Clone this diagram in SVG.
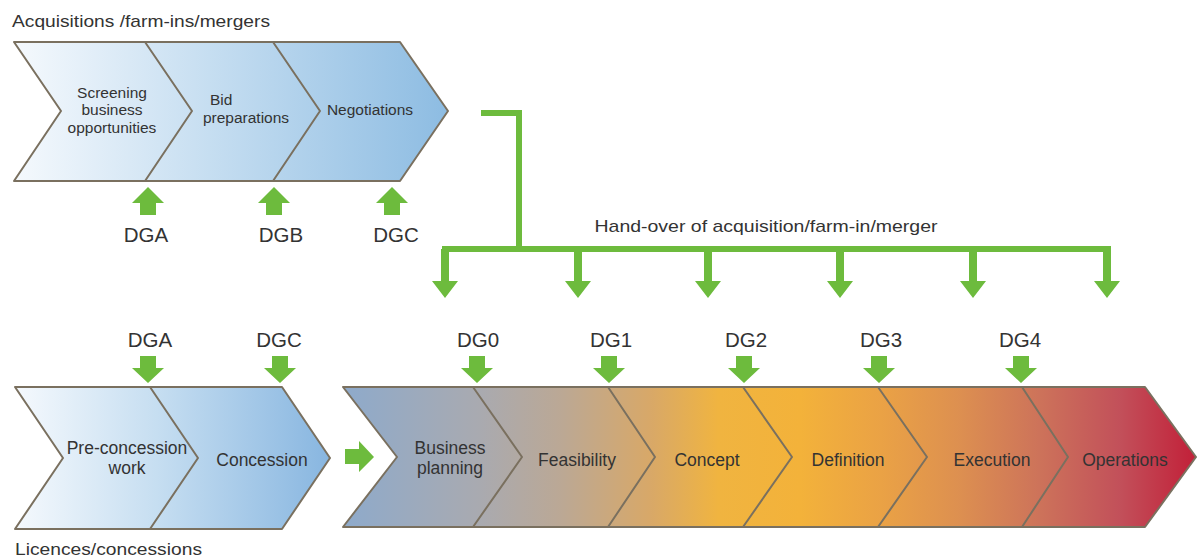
<svg xmlns="http://www.w3.org/2000/svg" width="1197" height="558" viewBox="0 0 1197 558">
<defs>
<linearGradient id="gTop" gradientUnits="userSpaceOnUse" x1="14" y1="0" x2="448" y2="0">
<stop offset="0" stop-color="#f5f9fd"/><stop offset="0.45" stop-color="#c6def1"/><stop offset="1" stop-color="#8dbce2"/>
</linearGradient>
<linearGradient id="gBL" gradientUnits="userSpaceOnUse" x1="15" y1="0" x2="330" y2="0">
<stop offset="0" stop-color="#f5f9fd"/><stop offset="0.45" stop-color="#c6def1"/><stop offset="1" stop-color="#88b6e0"/>
</linearGradient>
<linearGradient id="gBig" gradientUnits="userSpaceOnUse" x1="343" y1="0" x2="1197" y2="0">
<stop offset="0" stop-color="#8eaacb"/>
<stop offset="0.16" stop-color="#a9aab0"/>
<stop offset="0.255" stop-color="#bba895"/>
<stop offset="0.36" stop-color="#d8a868"/>
<stop offset="0.44" stop-color="#f0b440"/>
<stop offset="0.535" stop-color="#f3b23a"/>
<stop offset="0.63" stop-color="#eaa245"/>
<stop offset="0.72" stop-color="#dd9050"/>
<stop offset="0.815" stop-color="#cd735a"/>
<stop offset="0.91" stop-color="#c2505a"/>
<stop offset="1" stop-color="#c21f38"/>
</linearGradient>
</defs>
<style>
.shape{stroke:#7a705f;stroke-width:2;stroke-linejoin:round}
.bd{fill:none;stroke:#7a705f;stroke-width:2;stroke-linejoin:round}
.t{font-family:"Liberation Sans",Arial,sans-serif;fill:#333;text-anchor:middle}
.s14{font-size:15.5px}
.s16{font-size:17px}
.s17{font-size:17.5px}
.dg{font-size:20.5px}
.grn{fill:#6dbb3d}
.line{fill:none;stroke:#6dbb3d;stroke-width:6}
</style>
<text class="t s16" x="12" y="27" style="text-anchor:start" textLength="258" lengthAdjust="spacingAndGlyphs">Acquisitions /farm-ins/mergers</text>
<text class="t s16" x="15" y="555" style="text-anchor:start" textLength="187" lengthAdjust="spacingAndGlyphs">Licences/concessions</text>

<g id="acquisitions">
<path class="shape" fill="url(#gTop)" d="M14,42 L400,42 L448,111 L400,181 L14,181 L61,111 Z"/>
<path class="bd" d="M145,42 L192,111 L145,181"/>
<path class="bd" d="M273,42 L320,111 L273,181"/>
</g>
<g id="screening"><text class="t s14" x="112" y="98">Screening</text><text class="t s14" x="112" y="115">business</text><text class="t s14" x="112" y="133">opportunities</text></g>
<g id="bid"><text class="t s14" x="210" y="105" style="text-anchor:start">Bid</text><text class="t s14" x="246" y="123">preparations</text></g>
<g id="negotiations"><text class="t s14" x="370" y="115">Negotiations</text></g>

<g id="gates-top">
<path class="grn" d="M148,187 L164,203 L156,203 L156,215 L140,215 L140,203 L132,203 Z"/>
<path class="grn" d="M274,187 L290,203 L282,203 L282,215 L266,215 L266,203 L258,203 Z"/>
<path class="grn" d="M392,187 L408,203 L400,203 L400,215 L384,215 L384,203 L376,203 Z"/>
<text class="t dg" x="146" y="242">DGA</text>
<text class="t dg" x="281" y="242">DGB</text>
<text class="t dg" x="396" y="242">DGC</text>
</g>

<g id="connectors">
<path class="line" d="M481,113 L519,113 L519,249"/>
<path class="line" d="M442,249 L1110,249"/>
<g class="grn">
<path d="M441,249 L449,249 L449,281 L458,281 L445,298 L432,281 L441,281 Z"/>
<path d="M574,249 L582,249 L582,281 L591,281 L578,298 L565,281 L574,281 Z"/>
<path d="M704,249 L712,249 L712,281 L721,281 L708,298 L695,281 L704,281 Z"/>
<path d="M836,249 L844,249 L844,281 L853,281 L840,298 L827,281 L836,281 Z"/>
<path d="M969,249 L977,249 L977,281 L986,281 L973,298 L960,281 L969,281 Z"/>
<path d="M1103,246 L1111,246 L1111,281 L1120,281 L1107,298 L1094,281 L1103,281 Z"/>
</g>
<path class="grn" d="M345,449 L359,449 L359,441 L374,457 L359,472 L359,464 L345,464 Z"/>
</g>
<text class="t s16" x="766" y="232" textLength="343" lengthAdjust="spacingAndGlyphs">Hand-over of acquisition/farm-in/merger</text>

<g id="gates-bottom">
<text class="t dg" x="150" y="347">DGA</text>
<text class="t dg" x="279" y="347">DGC</text>
<text class="t dg" x="478" y="347">DG0</text>
<text class="t dg" x="611" y="347">DG1</text>
<text class="t dg" x="746" y="347">DG2</text>
<text class="t dg" x="881" y="347">DG3</text>
<text class="t dg" x="1020" y="347">DG4</text>
<g class="grn">
<path d="M140,356 L156,356 L156,368 L164,368 L148,383 L132,368 L140,368 Z"/>
<path d="M272,356 L288,356 L288,368 L296,368 L280,383 L264,368 L272,368 Z"/>
<path d="M469,356 L485,356 L485,368 L493,368 L477,383 L461,368 L469,368 Z"/>
<path d="M601,356 L617,356 L617,368 L625,368 L609,383 L593,368 L601,368 Z"/>
<path d="M736,356 L752,356 L752,368 L760,368 L744,383 L728,368 L736,368 Z"/>
<path d="M871,356 L887,356 L887,368 L895,368 L879,383 L863,368 L871,368 Z"/>
<path d="M1013,356 L1029,356 L1029,368 L1037,368 L1021,383 L1005,368 L1013,368 Z"/>
</g>
</g>

<g id="licences">
<path class="shape" fill="url(#gBL)" d="M15,387 L282,387 L330,458 L282,529 L15,529 L63,458 Z"/>
<path class="bd" d="M150,387 L198,458 L150,529"/>
</g>
<g id="preconcession"><text class="t s17" x="127" y="454">Pre-concession</text><text class="t s17" x="127" y="474">work</text></g>
<g id="concession"><text class="t s17" x="262" y="466">Concession</text></g>

<g id="phases">
<path class="shape" fill="url(#gBig)" d="M343,387 L1145,387 L1196,457 L1145,527 L343,527 L397,457 Z"/>
<path class="bd" d="M473,387 L522,457 L473,527"/>
<path class="bd" d="M608,387 L655,457 L608,527"/>
<path class="bd" d="M743,387 L792,457 L743,527"/>
<path class="bd" d="M878,387 L927,457 L878,527"/>
<path class="bd" d="M1022,387 L1068,457 L1022,527"/>
</g>
<g id="business"><text class="t s17" x="450" y="454">Business</text><text class="t s17" x="450" y="474">planning</text></g>
<g id="feasibility"><text class="t s17" x="577" y="466">Feasibility</text></g>
<g id="concept"><text class="t s17" x="707" y="466">Concept</text></g>
<g id="definition"><text class="t s17" x="848" y="466">Definition</text></g>
<g id="execution"><text class="t s17" x="992" y="466">Execution</text></g>
<g id="operations"><text class="t s17" x="1125" y="466">Operations</text></g>
</svg>
